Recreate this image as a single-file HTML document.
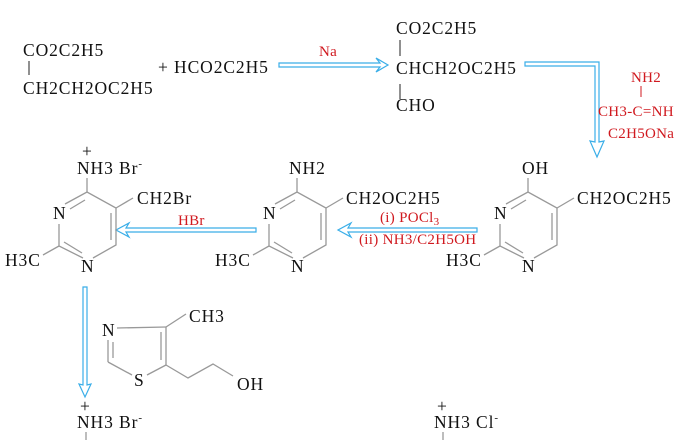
<!DOCTYPE html>
<html><head><style>
html,body{margin:0;padding:0;background:#fff;}
svg{display:block;}
text{font-family:"Liberation Serif",serif;font-size:17.5px;fill:#111;letter-spacing:0.9px;}
.r{fill:#d0191f;font-size:15px;letter-spacing:0.3px;}
.b{stroke:#999;stroke-width:1.3;fill:none;}
.k{stroke:#222;stroke-width:1;fill:none;}
.a{stroke:#3aaee8;stroke-width:1.2;fill:#fff;}
</style></head><body>
<svg width="682" height="440" viewBox="0 0 682 440">
<!-- top row -->
<text x="23" y="56">CO2C2H5</text>
<line class="k" x1="29" y1="61" x2="29" y2="75"/>
<text x="23" y="94">CH2CH2OC2H5</text>
<text x="158" y="73">+ HCO2C2H5</text>
<path class="a" d="M279,63 L380,63 L376,58 L388,65 L376,72 L380,67 L279,67 Z"/>
<text class="r" x="319" y="56">Na</text>
<text x="396" y="34">CO2C2H5</text>
<line class="k" x1="400" y1="40" x2="400" y2="56"/>
<text x="396" y="74">CHCH2OC2H5</text>
<line class="k" x1="400" y1="84" x2="400" y2="99"/>
<text x="396" y="111">CHO</text>
<path class="a" d="M525,62 L599,62 L599,142 L604,141 L597,157 L590,141 L595,142 L595,66 L525,66 Z"/>
<text class="r" x="631" y="82">NH2</text>
<line x1="641" y1="86" x2="641" y2="97" stroke="#d0191f" stroke-width="1"/>
<text class="r" x="598" y="116">CH3-C=NH</text>
<text class="r" x="608" y="138">C2H5ONa</text>

<!-- right ring -->
<g transform="translate(528,0)">
<text x="-6" y="174">OH</text>
<line class="b" x1="0" y1="178" x2="0" y2="192"/>
<polyline class="b" points="-22,204 0,192 29,208 29,245 6,258"/>
<line class="b" x1="-17" y1="209" x2="-2" y2="200"/>
<line class="b" x1="24" y1="213" x2="24" y2="240"/>
<polyline class="b" points="-4,258 -28,246 -28,224"/>
<line class="b" x1="-23" y1="242" x2="-5" y2="253"/>
<line class="b" x1="-28" y1="246" x2="-44" y2="255"/>
<line class="b" x1="29" y1="208" x2="46" y2="198"/>
<text x="-34" y="219">N</text>
<text x="-6" y="272">N</text>
<text x="-82" y="266">H3C</text>
<text x="49" y="204">CH2OC2H5</text>
</g>
<path class="a" d="M477,228 L348,228 L351,223 L338,230 L351,237 L348,232 L477,232 Z"/>
<text class="r" x="380" y="222" font-size="14">(i) POCl<tspan font-size="11" dy="3">3</tspan></text>
<text class="r" x="359" y="244" font-size="14">(ii) NH3/C2H5OH</text>

<!-- middle ring -->
<g transform="translate(297,0)">
<text x="-8" y="174">NH2</text>
<line class="b" x1="0" y1="178" x2="0" y2="192"/>
<polyline class="b" points="-22,204 0,192 29,208 29,245 6,258"/>
<line class="b" x1="-17" y1="209" x2="-2" y2="200"/>
<line class="b" x1="24" y1="213" x2="24" y2="240"/>
<polyline class="b" points="-4,258 -28,246 -28,224"/>
<line class="b" x1="-23" y1="242" x2="-5" y2="253"/>
<line class="b" x1="-28" y1="246" x2="-44" y2="255"/>
<line class="b" x1="29" y1="208" x2="46" y2="198"/>
<text x="-34" y="219">N</text>
<text x="-6" y="272">N</text>
<text x="-82" y="266">H3C</text>
<text x="49" y="204">CH2OC2H5</text>
</g>
<path class="a" d="M256,228 L126,228 L129,223 L116,230 L129,237 L126,232 L256,232 Z"/>
<text class="r" x="178" y="225" font-size="14">HBr</text>

<!-- left ring -->
<g transform="translate(87,0)">
<text x="-5" y="157" font-size="14">+</text>
<text x="-10" y="174">NH3 Br<tspan font-size="11" dy="-7">-</tspan></text>
<line class="b" x1="0" y1="178" x2="0" y2="192"/>
<polyline class="b" points="-22,204 0,192 29,208 29,245 6,258"/>
<line class="b" x1="-17" y1="209" x2="-2" y2="200"/>
<line class="b" x1="24" y1="213" x2="24" y2="240"/>
<polyline class="b" points="-4,258 -28,246 -28,224"/>
<line class="b" x1="-23" y1="242" x2="-5" y2="253"/>
<line class="b" x1="-28" y1="246" x2="-44" y2="255"/>
<line class="b" x1="29" y1="208" x2="46" y2="198"/>
<text x="-34" y="219">N</text>
<text x="-6" y="272">N</text>
<text x="-82" y="266">H3C</text>
<text x="50" y="204">CH2Br</text>
</g>
<path class="a" d="M83,287 L87,287 L87,385 L91,384 L85,397 L79,384 L83,385 Z"/>

<!-- thiazole -->
<text x="102" y="336">N</text>
<line class="b" x1="117" y1="328" x2="166" y2="327"/>
<line class="b" x1="166" y1="327" x2="186" y2="314"/>
<line class="b" x1="166" y1="327" x2="166" y2="365"/>
<line class="b" x1="161" y1="332" x2="161" y2="360"/>
<line class="b" x1="166" y1="365" x2="147" y2="375"/>
<line class="b" x1="132" y1="375" x2="108" y2="362"/>
<line class="b" x1="108" y1="362" x2="108" y2="340"/>
<line class="b" x1="113" y1="358" x2="113" y2="342"/>
<polyline class="b" points="166,365 188,378 213,364 233,376"/>
<text x="189" y="322">CH3</text>
<text x="134" y="386">S</text>
<text x="237" y="390">OH</text>

<!-- bottom -->
<text x="80" y="412" font-size="13">+</text>
<text x="77" y="428">NH3 Br<tspan font-size="11" dy="-7">-</tspan></text>
<line class="b" x1="86" y1="432" x2="86" y2="440"/>
<text x="437" y="412" font-size="13">+</text>
<text x="434" y="428">NH3 Cl<tspan font-size="11" dy="-7">-</tspan></text>
<line class="b" x1="443" y1="432" x2="443" y2="440"/>
</svg>
</body></html>
